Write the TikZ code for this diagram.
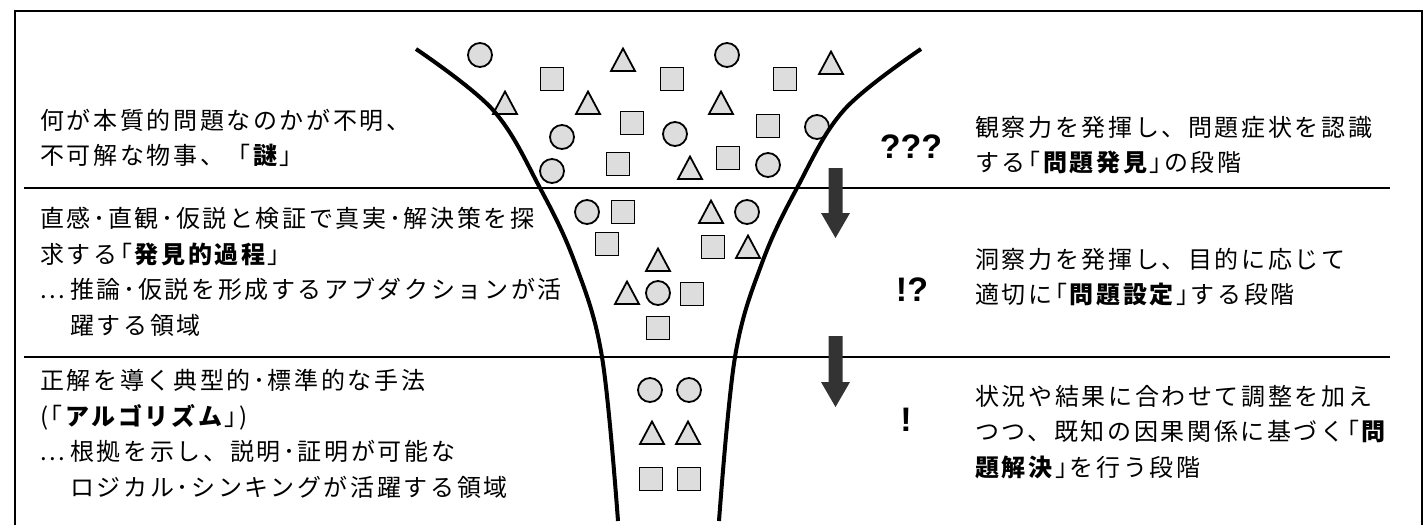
\documentclass[tikz,border=0pt]{standalone}
\usepackage{fontspec}
\setmainfont{Noto Sans CJK JP}[LetterSpace=11]
\newfontfamily\qfont{Liberation Sans}
\usetikzlibrary{shapes.geometric}
\definecolor{shapegray}{HTML}{DDDDDD}
\definecolor{arrowgray}{HTML}{333333}
\tikzset{
  frame/.style={line width=2.2pt, black},
  divider/.style={line width=2.2pt, black},
  funnel/.style={line width=4pt, black},
  circ/.style={circle, draw=black, fill=shapegray, line width=1.8pt, minimum size=24pt, inner sep=0pt},
  sq/.style={rectangle, draw=black, fill=shapegray, line width=1.8pt, minimum size=23pt, inner sep=0pt},
  tri/.pic={\draw[fill=shapegray, line width=1.8pt] (0,-11.5) -- (12,11) -- (-12,11) -- cycle;},
  jtext/.style={anchor=west, align=left, inner sep=0pt, font=\fontsize{24}{35.5}\selectfont},
  qtext/.style={inner sep=0pt, font=\qfont\bfseries\fontsize{34}{34}\selectfont},
  blockarrow/.style={fill=arrowgray, draw=none}
}
\begin{document}
\begin{tikzpicture}[x=1pt, y=-1pt]
\useasboundingbox (0,0) rectangle (1428,525);
\clip (0,0) rectangle (1428,525);
% frame (bottom edge lies outside the picture)
\draw[frame] (15,540) -- (15,11) -- (1422,11) -- (1422,540);
% dividers
\coordinate (d1a) at (24,188); \coordinate (d1b) at (1390,188);
\coordinate (d2a) at (24,357); \coordinate (d2b) at (1390,357);
\draw[divider] (d1a) -- (d1b);
\draw[divider] (d2a) -- (d2b);
% shapes: circles
\foreach \x/\y [count=\i] in {480/55, 727/55, 562/137, 675/134, 817/127, 552/171, 768/165,
    587/212, 747/212, 658/293, 650/390, 689/390}
  \node[circ] (c\i) at (\x,\y) {};
% squares
\foreach \x/\y [count=\i] in {552/79, 672/79, 785/79, 632/123, 768/126, 618/164, 728/158,
    623/212, 607/244, 713/247, 692/294, 658/328, 651/479, 689/479}
  \node[sq] (s\i) at (\x,\y) {};
% triangles
\foreach \x/\y [count=\i] in {623/60, 831/63, 505/103, 588/103, 721/103, 690/168,
    711/212, 748/247, 658/260, 627/293, 652/433, 688/433}
  \pic (t\i) at (\x,\y) {tri};
% funnel
\draw[funnel] plot[smooth, tension=0.6] coordinates {(416,49) (493,110) (540,188) (575,263) (602,357) (618,521)};
\draw[funnel] plot[smooth, tension=0.6] coordinates {(921,49) (844,110) (797,188) (762,263) (735,357) (719,521)};
% block arrows
\fill[blockarrow] (828.5,168) -- (842.5,168) -- (842.5,213) -- (850,213) -- (835.5,238) -- (821,213) -- (828.5,213) -- cycle;
\fill[blockarrow] (828.5,336) -- (842.5,336) -- (842.5,382) -- (850,382) -- (835.5,407) -- (821,382) -- (828.5,382) -- cycle;
% left texts
\node[jtext] (l1) at (40,138) {何が本質的問題なのかが不明、\\不可解な物事、「\textbf{謎}」};
\node[jtext] (l2) at (40,272) {直感･直観･仮説と検証で真実･解決策を探\\求する｢\textbf{発見的過程}｣\\\makebox[30pt][l]{...}推論･仮説を形成するアブダクションが活\\\hspace*{30pt}躍する領域};
\node[jtext] (l3) at (40,434) {正解を導く典型的･標準的な手法\\(｢\textbf{アルゴリズム}｣)\\\makebox[30pt][l]{...}根拠を示し、説明･証明が可能な\\\hspace*{30pt}ロジカル･シンキングが活躍する領域};
% marks
\node[qtext] (q1) at (911,147) {???};
\node[qtext] (q2) at (912,290) {!?};
\node[qtext] (q3) at (906,420) {!};
% right texts
\node[jtext] (r1) at (975,145) {観察力を発揮し、問題症状を認識\\する｢\textbf{問題発見}｣の段階};
\node[jtext] (r2) at (975,277) {洞察力を発揮し、目的に応じて\\適切に｢\textbf{問題設定}｣する段階};
\node[jtext] (r3) at (975,432) {状況や結果に合わせて調整を加え\\つつ、既知の因果関係に基づく｢\textbf{問}\\\textbf{題解決}｣を行う段階};
\end{tikzpicture}
\end{document}
